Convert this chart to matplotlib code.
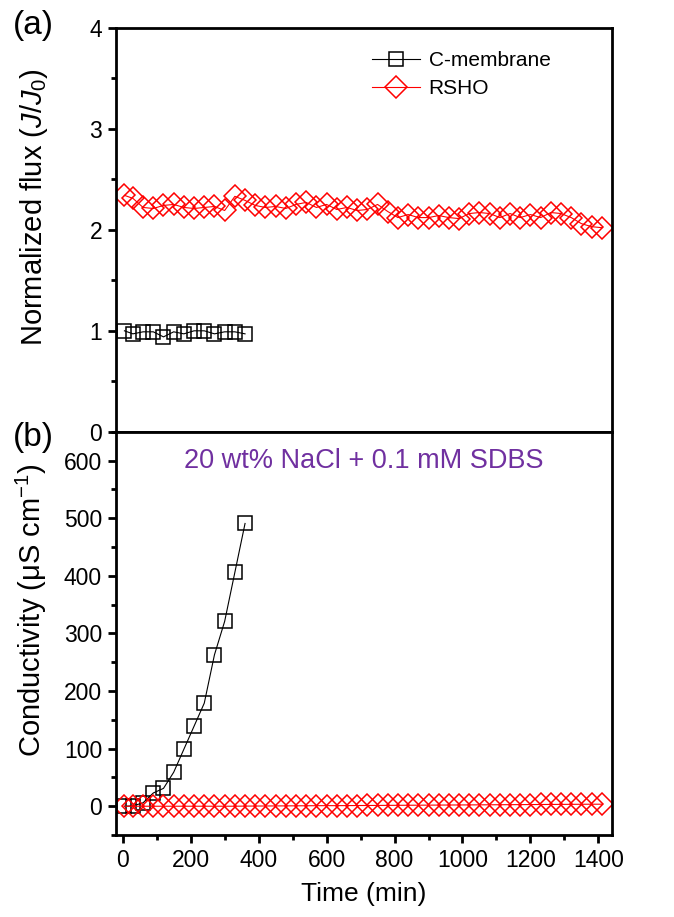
import matplotlib
matplotlib.use("Agg")
import matplotlib.pyplot as plt
import matplotlib.ticker as ticker

plt.rcParams['font.family'] = ['Liberation Sans', 'DejaVu Sans']
plt.rcParams['mathtext.fontset'] = 'custom'
plt.rcParams['mathtext.rm'] = 'Liberation Sans'
plt.rcParams['mathtext.it'] = 'Liberation Sans:italic'

# time points (min)
t_c = [5, 30, 60, 90, 120, 150, 180, 210, 240, 270, 300, 330, 360]
t_r = [5, 30, 60, 90, 120, 150, 180, 210, 240, 270, 300, 330, 360, 390,
       420, 450, 480, 510, 540, 570, 600, 630, 660, 690, 720, 750, 780,
       810, 840, 870, 900, 930, 960, 990, 1020, 1050, 1080, 1110, 1140,
       1170, 1200, 1230, 1260, 1290, 1320, 1350, 1380, 1410]

# normalized flux J/J0
flux_c = [1.00, 0.97, 0.99, 0.99, 0.94, 0.99, 0.97, 1.00, 1.00, 0.97, 0.99, 0.99, 0.97]
flux_r = [2.34, 2.31, 2.22, 2.21, 2.24, 2.25, 2.22, 2.21, 2.22, 2.23, 2.19, 2.33,
          2.29, 2.24, 2.22, 2.23, 2.21, 2.25, 2.27, 2.22, 2.25, 2.20, 2.22, 2.19,
          2.20, 2.25, 2.18, 2.12, 2.15, 2.12, 2.12, 2.14, 2.12, 2.11, 2.16, 2.17,
          2.16, 2.12, 2.16, 2.12, 2.15, 2.12, 2.17, 2.16, 2.12, 2.06, 2.03, 2.02]

# permeate conductivity (uS/cm)
cond_c = [0, 0.5, 6, 23, 31, 59, 99, 139, 179, 263, 321, 406, 491]
cond_r = [0.0, 0.0, 0.0, 0.0, 0.0, 0.0, 0.0, 0.0, 0.0, 0.0, 0.0, 0.0,
          0.2, 0.3, 0.4, 0.5, 0.6, 0.7, 0.8, 0.9, 1.0, 1.0, 1.1, 1.2,
          1.3, 1.4, 1.5, 1.6, 1.7, 1.8, 1.9, 2.0, 2.1, 2.2, 2.3, 2.4,
          2.5, 2.6, 2.7, 2.8, 2.9, 3.0, 3.1, 3.2, 3.3, 3.4, 3.5, 3.5]

labels = ['C-membrane', 'RSHO']

fig = plt.figure(figsize=(6.74, 9.17), dpi=100)
ax1 = fig.add_axes([0.172, 0.529, 0.736, 0.441])
ax2 = fig.add_axes([0.172, 0.0894, 0.736, 0.4396])

sq = dict(marker='s', ms=10, mfc='none', mec='black', mew=1.1, color='black', lw=0.8)
dm = dict(marker='D', ms=10.8, mfc='none', mec='red', mew=1.1, color='red', lw=0.8)

ax1.plot(t_c, flux_c, label=labels[0], **sq)
ax1.plot(t_r, flux_r, label=labels[1], **dm)
ax2.plot(t_c, cond_c, **sq)
ax2.plot(t_r, cond_r, **dm)

for ax in (ax1, ax2):
    ax.set_xlim(-20, 1440)
    for s in ax.spines.values():
        s.set_linewidth(2)
    ax.tick_params(which='major', direction='out', length=6, width=2,
                   labelsize=16.5, pad=4)
    ax.tick_params(which='minor', direction='out', length=3.5, width=2)
    ax.tick_params(top=False, right=False)
    ax.xaxis.set_major_locator(ticker.MultipleLocator(200))
    ax.xaxis.set_minor_locator(ticker.MultipleLocator(100))

ax1.set_ylim(0, 4)
ax1.yaxis.set_major_locator(ticker.MultipleLocator(1))
ax1.yaxis.set_minor_locator(ticker.MultipleLocator(0.5))
ax1.tick_params(axis='x', which='both', bottom=False, labelbottom=False)

ax2.set_ylim(-50, 650)
ax2.yaxis.set_major_locator(ticker.FixedLocator([0, 100, 200, 300, 400, 500, 600]))
ax2.yaxis.set_minor_locator(ticker.MultipleLocator(50))

ax1.set_ylabel(r'Normalized flux ($\mathit{J/J_0}$)', fontsize=21)
ax1.yaxis.set_label_coords(-0.132, 0.555)
ax2.set_ylabel(r'Conductivity (μS cm$^{-1}$)', fontsize=21)
ax2.yaxis.set_label_coords(-0.135, 0.558)
ax2.set_xlabel('Time (min)', fontsize=19, labelpad=7)

ax2.text(0.5, 0.928, '20 wt% NaCl + 0.1 mM SDBS', transform=ax2.transAxes,
         ha='center', va='center', fontsize=19.5, color='#7030A0')

fig.text(0.05, 0.972, '(a)', fontsize=24, ha='center', va='center')
fig.text(0.05, 0.523, '(b)', fontsize=24, ha='center', va='center')

ax1.legend(loc='upper left', bbox_to_anchor=(0.5, 0.963), frameon=False,
           fontsize=15, handlelength=2.3, handletextpad=0.4,
           labelspacing=0.45, borderaxespad=0)

fig.savefig('out.png', dpi=100)
